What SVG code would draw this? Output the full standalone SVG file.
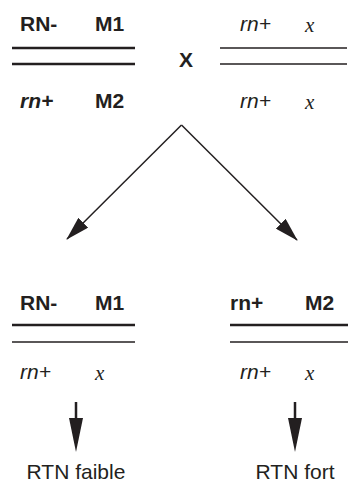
<svg xmlns="http://www.w3.org/2000/svg" width="348" height="486" viewBox="0 0 348 486">
<style>
.b{font-family:"Liberation Sans",Arial,sans-serif;font-weight:bold;font-size:21px;fill:#231f20}
.i{font-family:"Liberation Sans",Arial,sans-serif;font-style:italic;font-size:21px;fill:#231f20}
.x{font-family:"Liberation Serif","Times New Roman",serif;font-style:italic;font-size:21px;fill:#231f20}
.n{font-family:"Liberation Sans",Arial,sans-serif;font-size:21px;fill:#231f20}
.thick{stroke:#231f20;stroke-width:2.5}
.thin{stroke:#231f20;stroke-width:1.5}
</style>
<defs>
<marker id="ah" markerWidth="24" markerHeight="14" refX="23" refY="7" orient="auto" markerUnits="userSpaceOnUse">
<path d="M0,0 L24,7 L0,14 Z" fill="#231f20"/>
</marker>
</defs>
<g id="parent1">
<text class="b" x="20" y="31">RN-</text>
<text class="b" x="95" y="31">M1</text>
<line class="thick" x1="12" y1="48" x2="135" y2="48"/>
<line class="thick" x1="12" y1="64" x2="135" y2="64"/>
<text class="i" x="20" y="108" style="font-weight:bold">rn+</text>
<text class="b" x="95" y="108">M2</text>
</g>
<g id="cross"><text class="b" x="186" y="67" text-anchor="middle">X</text></g>
<g id="parent2">
<text class="i" x="240" y="31">rn+</text>
<text class="x" x="305" y="32">x</text>
<line class="thin" x1="220" y1="48" x2="347" y2="48"/>
<line class="thin" x1="220" y1="64" x2="347" y2="64"/>
<text class="i" x="240" y="108">rn+</text>
<text class="x" x="305" y="109">x</text>
</g>
<g id="child1">
<text class="b" x="20" y="310">RN-</text>
<text class="b" x="95" y="310">M1</text>
<line class="thick" x1="12" y1="325" x2="135" y2="325"/>
<line class="thin" x1="12" y1="342" x2="135" y2="342"/>
<text class="i" x="20" y="379">rn+</text>
<text class="x" x="95" y="380">x</text>
</g>
<g id="child2">
<text class="b" x="230" y="310">rn+</text>
<text class="b" x="305" y="310">M2</text>
<line class="thick" x1="230" y1="325" x2="348" y2="325"/>
<line class="thin" x1="230" y1="342" x2="348" y2="342"/>
<text class="i" x="240" y="379">rn+</text>
<text class="x" x="305" y="380">x</text>
</g>
<g id="result1"><text class="n" x="76" y="479" text-anchor="middle">RTN faible</text></g>
<g id="result2"><text class="n" x="295" y="479" text-anchor="middle">RTN fort</text></g>
<g id="connectors">
<line x1="181.5" y1="125" x2="67" y2="239" stroke="#231f20" stroke-width="1.5" marker-end="url(#ah)"/>
<line x1="181.5" y1="125" x2="297" y2="240" stroke="#231f20" stroke-width="1.5" marker-end="url(#ah)"/>
<line x1="76" y1="402" x2="76" y2="425" stroke="#231f20" stroke-width="2.5"/>
<path d="M69,418 L83,418 L76,452 Z" fill="#231f20"/>
<line x1="295" y1="402" x2="295" y2="425" stroke="#231f20" stroke-width="2.5"/>
<path d="M288,418 L302,418 L295,452 Z" fill="#231f20"/>
</g>
</svg>
